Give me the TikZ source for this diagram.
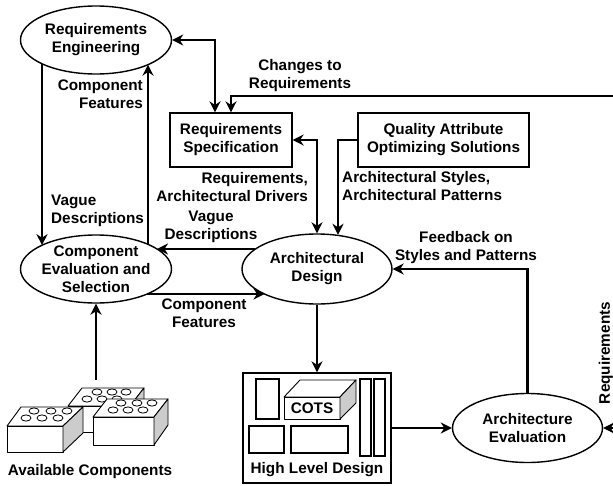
\documentclass[tikz,border=0pt]{standalone}
\usepackage{fontspec}
\setmainfont{Liberation Sans}
\usetikzlibrary{arrows.meta,shapes.geometric,calc}
\definecolor{sidegray}{RGB}{204,204,204}
\begin{document}
\begin{tikzpicture}[x=1pt,y=-1pt,
  every node/.style={font=\fontsize{15.3}{18}\selectfont\bfseries, inner sep=0pt, align=center},
  proc/.style={draw, ellipse, line width=1.4pt, minimum width=151pt, minimum height=68pt},
  artefact/.style={draw, rectangle, line width=1.2pt},
  conn/.style={line width=2.7pt, -{Stealth[length=11pt,width=11pt,inset=3.5pt]}},
  biconn/.style={line width=2.7pt, {Stealth[length=11pt,width=11pt,inset=3.5pt]}-{Stealth[length=11pt,width=11pt,inset=3.5pt]}},
  part/.style={draw, line width=0.9pt, fill=white, line join=round},
  side/.style={draw, line width=0.9pt, fill=sidegray, line join=round},
  stud/.style={draw, line width=0.8pt, fill=white},
  module/.style={draw, line width=1.1pt},
]
\useasboundingbox (0,0) rectangle (613,485);
\clip (0,0) rectangle (613,485);

% process ellipses
\node[proc] (RE) at (96,40) {Requirements\\Engineering};
\node[proc, inner xsep=-3pt] (CE) at (96,269) {Component\\Evaluation and\\Selection};
\node[proc, minimum width=150pt, minimum height=70pt] (AD) at (317,269) {Architectural\\Design};
\node[proc, minimum width=150pt, minimum height=69pt] (AE) at (527.5,428) {Architecture\\Evaluation};

% artefact boxes
\node[artefact, minimum width=122pt, minimum height=54pt] (RS) at (231,140) {Requirements\\Specification};
\node[artefact, minimum width=171pt, minimum height=54pt] (QA) at (443.5,140) {Quality Attribute\\Optimizing Solutions};
\node[artefact, line width=1.3pt, minimum width=148pt, minimum height=110pt] (HLD) at (317,428) {};

% contents of the high level design
\draw[module] (256,379) rectangle (279,419);
\draw[module] (249,426) rectangle (284,453);
\draw[module] (291,426) rectangle (348,453);
\draw[module] (360,379) rectangle (371,456);
\draw[module] (374,379) rectangle (385,456);
\draw[part] (284,397) -- (300,380) -- (356,380) -- (340,397) -- cycle;
\draw[part] (284,397) rectangle (340,419);
\draw[side] (340,397) -- (356,380) -- (356,403) -- (340,419) -- cycle;
\node (cots) at (312,408) {COTS};
\node (hldlabel) at (317,470) {High Level Design};

% stack of available components
\draw[part] (68,406) -- (82,388) -- (144,388) -- (130,406) -- cycle;
\draw[part] (68,406) rectangle (130,432);
\draw[side] (130,406) -- (144,388) -- (144,414) -- (130,432) -- cycle;
\foreach \x/\y in {97/392,112/392,126/392,87/399,102/399,117/399}
  \draw[stud] (\x,\y) ellipse [x radius=5, y radius=3.1];

\draw[part] (7,426) -- (21,407) -- (83,407) -- (63,426) -- cycle;
\draw[part] (7,426) rectangle (63,452);
\draw[side] (63,426) -- (83,407) -- (83,433) -- (63,452) -- cycle;
\foreach \x/\y in {34/411,51/411,67/411,26/418,42/418,58/418}
  \draw[stud] (\x,\y) ellipse [x radius=5, y radius=3.1];

\draw[part] (93,417) -- (107,399) -- (168,399) -- (154,417) -- cycle;
\draw[part] (93,417) rectangle (154,445);
\draw[side] (154,417) -- (168,399) -- (168,425) -- (154,445) -- cycle;
\foreach \x/\y in {121/403,137/403,152/403,113/410,128/410,143/410}
  \draw[stud] (\x,\y) ellipse [x radius=5, y radius=3.1];
\node (avail) at (90,472) {Available Components};

% loose ends of the connectors
\coordinate (chgin) at (625,96);
\coordinate (reqin) at (625,428);
\coordinate (stock) at (96,380);

% connectors
\draw[biconn] (RE.east) -| ($(RS.north)+(-16,0)$);
\draw[conn] (chgin) -| (RS.north);
\draw[biconn] (RS.east) -| (AD.north);
\draw[conn] (QA.west) -| ($(AD.north)+(21,1.5)$);
\draw[conn] ($(RE.center)+(-54,23.8)$) -- ($(CE.center)+(-54,-23.8)$);
\draw[conn] ($(CE.center)+(52,-24.6)$) -- ($(RE.center)+(52,24.6)$);
\draw[conn] ($(AD.center)+(-61.6,-20)$) -- ($(CE.center)+(61,-20)$);
\draw[conn] ($(CE.center)+(51.2,25)$) -- ($(AD.center)+(-52.5,25)$);
\draw[conn] (stock) -- (CE.south);
\draw[conn] (AD.south) -- (HLD.north);
\draw[conn] (HLD.east) -- (AE.west);
\draw[conn] (AE.north) |- (AD.east);
\draw[conn] (reqin) -- (AE.east);

% connector labels
\node (lblchg) at (300,76) {Changes to\\Requirements};
\node[anchor=east, align=right] (lblfeat) at (143,94) {Component\\Features};
\node[anchor=west, align=left] (lblvague) at (51,211) {Vague\\Descriptions};
\node[anchor=east, align=right] (lbldrv) at (308,187) {Requirements,\\Architectural Drivers};
\node[anchor=west, align=left] (lblsty) at (342,186) {Architectural Styles,\\Architectural Patterns};
\node (lblvague2) at (211,227) {Vague\\Descriptions};
\node (lblfb) at (466,248) {Feedback on\\Styles and Patterns};
\node (lblfeat2) at (204,313) {Component\\Features};
\node[rotate=90] (lblreq) at (606,353) {Requirements};
\end{tikzpicture}
\end{document}
